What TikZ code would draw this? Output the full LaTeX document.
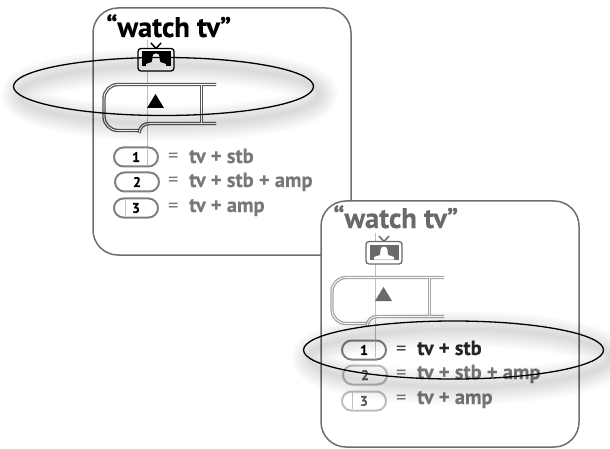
\documentclass[tikz,border=0pt]{standalone}
\usepackage{fontspec}
\setmainfont{PT Sans}[BoldFeatures={FakeBold=0.25}]
\usepackage{tikz}
\usetikzlibrary{calc}
\definecolor{framegray}{RGB}{110, 110, 110}
\definecolor{labelgray}{RGB}{120, 120, 120}
\definecolor{titlegray}{RGB}{105, 105, 105}
\definecolor{keygray}{RGB}{190, 190, 190}

% tv icon: centre x, top y, colour
\newcommand{\tvicon}[3]{
  \draw[#3, line width=1.5pt] (#1-5,#2) -- (#1,#2+5.5) -- (#1+5,#2);
  \draw[#3, line width=1.3pt, rounded corners=3pt, fill=white] (#1-18,#2+5.5) rectangle (#1+18,#2+28);
  \fill[#3] (#1-14.5,#2+8.5) rectangle (#1+14.5,#2+23.5);
  \fill[white] (#1,#2+14) circle (3.6);
  \fill[white] (#1-3.5,#2+15) -- (#1+3.5,#2+15) -- (#1+4,#2+19) -- (#1+10,#2+21) -- (#1+10,#2+23.5) -- (#1-10,#2+23.5) -- (#1-10,#2+21) -- (#1-4,#2+19) -- cycle;
}
% rocker outline: offset x, offset y, line colour, triangle colour
\newcommand{\rocker}[4]{
  \begin{scope}[shift={(#1,#2)}]
    \draw[#3, rocker line, rounded corners=14pt] (216,84.5) -- (104,84.5) -- (104,130.5) -- (139,130.5);
    \draw[#3, rocker line] (216,123.5) -- (150,123.5) .. controls (143,123.5) and (140,127) .. (139,133);
    \draw[#3, rocker line] (201.5,85) -- (201.5,123);
    \fill[#4] (147,108) -- (164,108) -- (155.5,94) -- cycle;
  \end{scope}
}

\begin{document}
\begin{tikzpicture}[x=1pt, y=-1pt,
    panel/.style={draw=framegray, line width=1.5pt, rounded corners=25pt, fill=white},
    title/.style={anchor=base west, inner sep=0pt, font=\fontsize{28.5}{28}\selectfont\bfseries},
    keycap/.style={draw, line width=2pt, rounded corners=9.5pt, fill=white,
                   minimum width=44pt, minimum height=19pt, inner sep=0pt,
                   font=\fontsize{14}{14}\selectfont\bfseries},
    sign/.style={anchor=base west, inner sep=0pt, font=\fontsize{20.5}{20}\selectfont},
    combo/.style={anchor=base west, inner sep=0pt, font=\fontsize{20.5}{20}\selectfont\bfseries},
    guide/.style={draw=black!25, line width=0.4pt},
    rocker line/.style={line width=1.3pt, double=white, double distance=0.8pt},
    ring/.style={line width=1.3pt, draw=black}]
  \useasboundingbox (0,0) rectangle (610,449);

  % first panel
  \draw[panel] (93,8) rectangle (351,255);
  \node[title] (titleA) at (106,37) {“watch tv”};
  \draw[guide] (147,40) -- (147,165);
  \tvicon{156}{43}{black}
  \rocker{0}{0}{black!65}{black}
  \node[keycap, draw=black!50] (keyA1) at (136,157) {1};
  \node[keycap, draw=black!50] (keyA2) at (137,182) {2};
  \node[keycap, draw=black!50] (keyA3) at (136,208) {3};
  \draw[guide] (147,149) -- (147,165);
  \draw[guide] (125,199) -- (125,216);
  \node[sign, labelgray] (eqA1) at (168,163) {=};
  \node[sign, labelgray] (eqA2) at (168,187) {=};
  \node[sign, labelgray] (eqA3) at (168,212) {=};
  \node[combo, labelgray] (comboA1) at (189,163) {tv + stb};
  \node[combo, labelgray] (comboA2) at (189,187) {tv + stb + amp};
  \node[combo, labelgray] (comboA3) at (189,212) {tv + amp};

  % second panel
  \draw[panel] (321,201) rectangle (579,447);
  \node[title, titlegray] (titleB) at (333,228) {“watch tv”};
  \draw[guide] (375,233) -- (375,358);
  \tvicon{384}{236}{titlegray}
  \rocker{228}{193}{black!35}{titlegray}
  \node[keycap, draw=black!50] (keyB1) at (364,350) {1};
  \node[keycap, draw=keygray, text=black!65] (keyB2) at (365,375) {2};
  \node[keycap, draw=keygray, text=black!65] (keyB3) at (364,401) {3};
  \draw[guide] (375,342) -- (375,358);
  \draw[guide] (352,392) -- (352,409);
  \node[sign, black!75] (eqB1) at (396,355) {=};
  \node[sign, labelgray] (eqB2) at (396,379) {=};
  \node[sign, labelgray] (eqB3) at (396,404) {=};
  \node[combo, black!85] (comboB1) at (417,355) {tv + stb};
  \node[combo, labelgray] (comboB2) at (417,379) {tv + stb + amp};
  \node[combo, labelgray] (comboB3) at (417,404) {tv + amp};

  % highlight rings with soft shadow
  \foreach \cx/\cy in {163.5/86.5, 453.5/350} {
    \foreach \w in {3,6,...,36}
      \draw[black, opacity=0.012, line width=\w pt] (\cx+6,\cy+8) ellipse (150 and 29);
    \draw[ring] (\cx,\cy) ellipse (150 and 29);
  }
\end{tikzpicture}
\end{document}
